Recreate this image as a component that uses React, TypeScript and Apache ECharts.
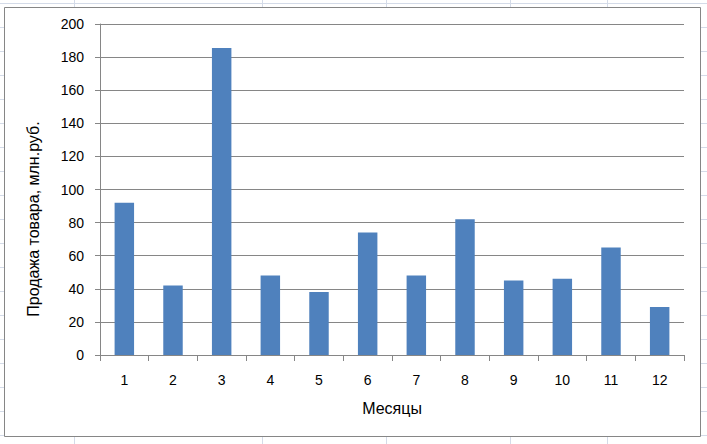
import React, { useEffect, useRef } from "react";
import * as echarts from "echarts";

const months = ["1", "2", "3", "4", "5", "6", "7", "8", "9", "10", "11", "12"];
const sales = [92, 42, 185.5, 48, 38, 74, 48, 82, 45, 46, 65, 29];
const yTitle = "Продажа товара, млн.руб.";
const xTitle = "Месяцы";

const FONT = "'Liberation Sans', Arial, sans-serif";
const GRAY = "#868686";
const SHEET = "#d4dbe8";

export default function App() {
  const ref = useRef<HTMLDivElement>(null);
  useEffect(() => {
    if (!ref.current) return;
    const chart = echarts.init(ref.current, null, { renderer: "svg" });

    const sheet: any[] = [];
    sheet.push({ type: "line", shape: { x1: 0, y1: 3.5, x2: 707, y2: 3.5 }, style: { stroke: SHEET, lineWidth: 1 }, z: 0 });
    for (let y = 27.5; y < 444; y += 24) {
      sheet.push({ type: "line", shape: { x1: 0, y1: y, x2: 5, y2: y }, style: { stroke: SHEET, lineWidth: 1 }, z: 0 });
      sheet.push({ type: "line", shape: { x1: 700, y1: y, x2: 707, y2: y }, style: { stroke: SHEET, lineWidth: 1 }, z: 0 });
    }
    [74.5, 262.5, 386.5, 510.5, 607.5].forEach((x) => {
      sheet.push({ type: "line", shape: { x1: x, y1: 0, x2: x, y2: 8 }, style: { stroke: SHEET, lineWidth: 1 }, z: 0 });
      sheet.push({ type: "line", shape: { x1: x, y1: 436, x2: x, y2: 444 }, style: { stroke: SHEET, lineWidth: 1 }, z: 0 });
    });

    chart.setOption({
      animation: false,
      backgroundColor: "#fff",
      textStyle: { fontFamily: FONT },
      graphic: [
        ...sheet,
        {
          type: "rect",
          shape: { x: 4.5, y: 7.5, width: 696, height: 429 },
          style: { fill: "#fff", stroke: GRAY, lineWidth: 1 },
          z: 1,
          silent: true,
        },
        {
          type: "text",
          x: 33,
          y: 219,
          rotation: Math.PI / 2,
          style: {
            text: yTitle,
            fill: "#000",
            font: `16px ${FONT}`,
            align: "center",
            verticalAlign: "middle",
          },
          z: 10,
        },
      ],
      grid: { left: 100, top: 24, right: 23, bottom: 89, containLabel: false },
      xAxis: {
        type: "category",
        data: months,
        boundaryGap: true,
        name: xTitle,
        nameLocation: "middle",
        nameGap: 45,
        nameTextStyle: { color: "#000", fontSize: 16, fontFamily: FONT },
        axisLine: { show: true, lineStyle: { color: GRAY, width: 1 } },
        axisTick: { show: true, length: 6, alignWithLabel: false, lineStyle: { color: GRAY } },
        axisLabel: { color: "#000", fontSize: 14, margin: 18, fontFamily: FONT },
        splitLine: { show: false },
        z: 5,
      },
      yAxis: {
        type: "value",
        min: 0,
        max: 200,
        interval: 20,
        axisLine: { show: true, lineStyle: { color: GRAY, width: 1 } },
        axisTick: { show: true, length: 5, lineStyle: { color: GRAY } },
        axisLabel: { color: "#000", fontSize: 14, margin: 16, fontFamily: FONT },
        splitLine: { show: true, lineStyle: { color: GRAY, width: 1 } },
        z: 5,
      },
      series: [
        {
          type: "bar",
          data: sales,
          barWidth: "40%",
          itemStyle: { color: "#4f81bd" },
          z: 6,
        },
      ],
    });
    return () => chart.dispose();
  }, []);
  return (
    <div
      ref={ref}
      style={{ position: "fixed", left: 0, top: 0, width: 707, height: 444 }}
    />
  );
}
